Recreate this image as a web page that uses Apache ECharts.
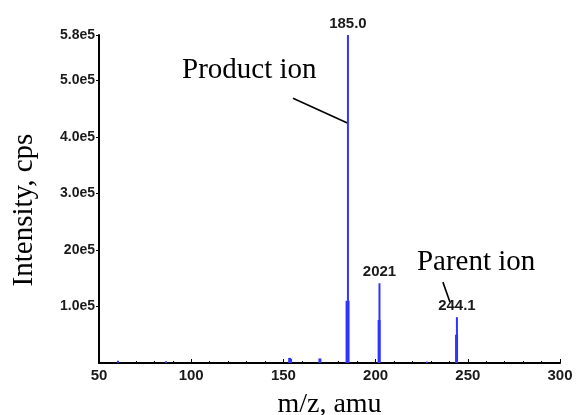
<!DOCTYPE html>
<html>
<head>
<meta charset="utf-8">
<script src="https://cdn.jsdelivr.net/npm/echarts@6/dist/echarts.min.js"></script>
<style>html,body{margin:0;padding:0;background:#fff}#c{width:576px;height:415px}</style>
</head>
<body>
<div id="c"></div>
<script>
// m/z peaks and intensities (cps)
const peakMz = [60.3, 86.3, 153.4, 153.9, 169.8, 184.8, 185.0, 201.9, 202.1, 227.8, 243.9, 244.1];
const peakIntensity = [4000, 3000, 9000, 7000, 8000, 110000, 580000, 76000, 141000, 2500, 50000, 81000];
const peakWidths = [2, 2, 3, 3, 3, 4, 2, 3, 2, 2, 3, 2];
// labelled peaks
const labelMz = [185.0, 202.1, 244.1];
const labelIntensity = [580000, 141000, 81000];
const labelText = ['185.0', '2021', '244.1'];
// axis ticks
const xTicks = [50, 100, 150, 200, 250, 300];
const yTickValues = [100000, 200000, 300000, 400000, 500000, 580000];
const yTickLabels = ['1.0e5', '20e5', '3.0e5', '4.0e5', '5.0e5', '5.8e5'];
// annotations (data coords)
const annotations = [
  { text: 'Product ion', at: [131.5, 518000], line: [[155.2, 468000], [185.0, 424000]] },
  { text: 'Parent ion', at: [254.5, 178000], line: [[236.5, 143000], [240.3, 108000]] }
];

const blue = '#3333ff';
const ink = '#000';
const chart = echarts.init(document.getElementById('c'));
const peakData = peakMz.map((m, i) => [m, peakIntensity[i], peakWidths[i]]);

chart.setOption({
  animation: false,
  grid: { left: 99, right: 16, top: 35, bottom: 52, outerBoundsMode: 'none', containLabel: false },
  xAxis: {
    type: 'value', min: 50, max: 300, interval: 50,
    name: 'm/z, amu', nameLocation: 'middle', nameGap: 28,
    nameTextStyle: { fontFamily: 'Liberation Serif', fontSize: 28, color: ink },
    axisLine: { lineStyle: { color: ink, width: 2 } },
    axisTick: { inside: true, length: 4, lineStyle: { color: ink } },
    minorTick: { show: true, splitNumber: 5, length: 2, lineStyle: { color: ink } },
    axisLabel: { fontFamily: 'Liberation Sans', fontSize: 15, fontWeight: 'bold', color: '#1a1a1a', margin: 5,
      customValues: xTicks },
    splitLine: { show: false }
  },
  yAxis: {
    type: 'value', min: 0, max: 580000,
    name: 'Intensity, cps', nameLocation: 'middle', nameGap: 60, nameRotate: 90,
    nameTextStyle: { fontFamily: 'Liberation Serif', fontSize: 29, color: ink, padding: [0, 0, 0, -22] },
    axisLine: { show: true, lineStyle: { color: ink, width: 2 } },
    axisTick: { show: true, length: 3, customValues: yTickValues, lineStyle: { color: ink } },
    axisLabel: { fontFamily: 'Liberation Sans', fontSize: 14, fontWeight: 'bold', color: '#1a1a1a', margin: 4,
      customValues: yTickValues,
      formatter: v => yTickLabels[yTickValues.indexOf(v)] || '' },
    splitLine: { show: false }
  },
  series: [
    {
      type: 'custom',
      data: peakData,
      renderItem: (params, api) => {
        const p0 = api.coord([api.value(0), 0]);
        const p1 = api.coord([api.value(0), api.value(1)]);
        return { type: 'line', shape: { x1: p0[0], y1: p0[1], x2: p1[0], y2: p1[1] },
          style: { stroke: blue, lineWidth: api.value(2) } };
      }
    },
    {
      type: 'scatter', symbolSize: 0,
      itemStyle: { opacity: 1 },
      data: labelMz.map((m, i) => [m, labelIntensity[i]]),
      label: { show: true, position: 'top', distance: 4,
        fontFamily: 'Liberation Sans', fontSize: 15, fontWeight: 'bold', color: '#1a1a1a', opacity: 1,
        formatter: p => labelText[p.dataIndex] }
    }
  ]
});

const g = [];
annotations.forEach(a => {
  const t = chart.convertToPixel({ gridIndex: 0 }, a.at);
  const l0 = chart.convertToPixel({ gridIndex: 0 }, a.line[0]);
  const l1 = chart.convertToPixel({ gridIndex: 0 }, a.line[1]);
  g.push({ type: 'text', x: t[0], y: t[1], style: { text: a.text, fontFamily: 'Liberation Serif',
    fontSize: 29, fill: ink, align: 'center', verticalAlign: 'middle' } });
  g.push({ type: 'line', shape: { x1: l0[0], y1: l0[1], x2: l1[0], y2: l1[1] },
    style: { stroke: ink, lineWidth: 1.6 } });
});
chart.setOption({ graphic: g });
</script>
</body>
</html>
